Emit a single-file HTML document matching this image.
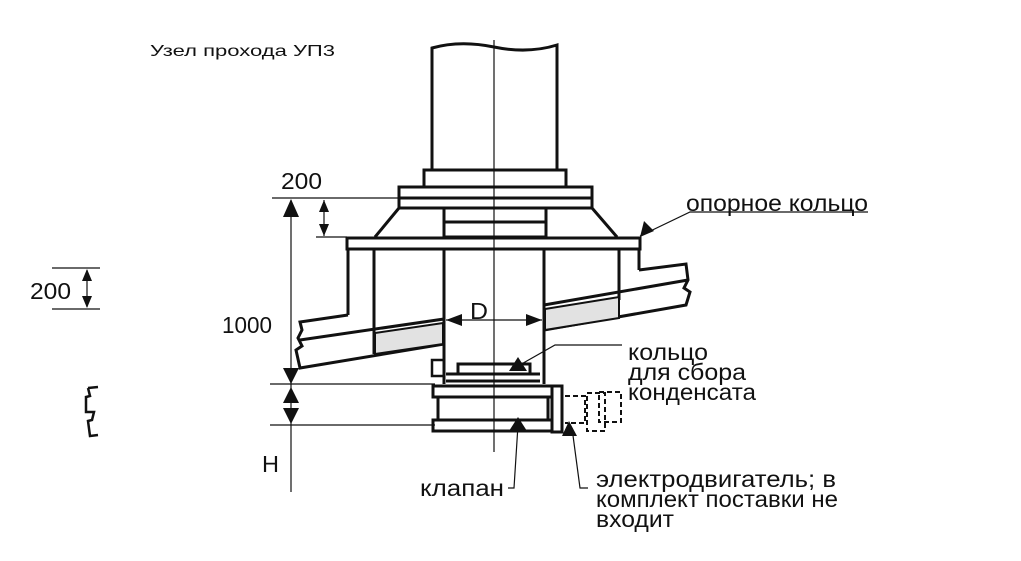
<!DOCTYPE html>
<html><head><meta charset="utf-8"><style>
body{margin:0;background:#fff;width:1021px;height:561px;overflow:hidden}
svg{display:block}
text{font-family:"Liberation Sans",Arial,sans-serif;fill:#111}
</style></head><body>
<svg width="1021" height="561" viewBox="0 0 1021 561">
<text x="150" y="56" font-size="16" font-family="DejaVu Sans" textLength="185" lengthAdjust="spacingAndGlyphs">Узел прохода УП3</text>
<g fill="none" stroke="#111" stroke-width="3">
<path d="M432,170 V48 Q460,40 494,47 T557,45 V170"/>
<rect x="424" y="170" width="142" height="17"/>
<rect x="399" y="187" width="193" height="21"/>
<line x1="399" y1="198" x2="592" y2="198"/>
<path d="M399,208 L375,237 M592,208 L617,237"/>
<rect x="444" y="208" width="102" height="29"/>
<line x1="444" y1="222" x2="546" y2="222"/>
<rect x="347" y="238" width="293" height="11"/>
<path d="M348,249 V315 M374,249 V354 M444,249 V384 M544,249 V384 M619,249 V300 M639,249 V270"/>
<path d="M348,315 L300,322 L302,330 L298,338 L302,346 L296,350 L300,368 L444,344"/>
<path d="M300,340 L444,319"/>
<path d="M639,270 L686,264 L688,280 L684,288 L690,292 L686,305 L544,330"/>
<path d="M544,305 L688,280"/>
<rect x="458" y="364" width="72" height="10"/>
<path d="M446,374 H540 M446,381 H540"/>
<rect x="432" y="360" width="12" height="16" stroke-width="2.5"/>
<rect x="433" y="386" width="119" height="11"/>
<rect x="438" y="397" width="110" height="23"/>
<rect x="433" y="420" width="119" height="11"/>
<rect x="552" y="386" width="10" height="46"/>
<path d="M88,388 L98,387 M88,388 L90,396 L86,397 L86,412 L94,412 L92,420 L88,421 L90,436 L98,435" stroke-width="2.5"/>
</g>
<path d="M375,333 L443,323 L443,344 L375,354z" fill="#e2e2e2" stroke="#111" stroke-width="2"/>
<path d="M545,309 L619,297 L619,318 L545,330z" fill="#e2e2e2" stroke="#111" stroke-width="2"/>
<g fill="none" stroke="#111" stroke-width="2" stroke-dasharray="5,3">
<path d="M565,396 H585 V423 H565"/>
<rect x="587" y="393" width="18" height="38"/>
<rect x="599" y="392" width="22" height="30"/>
</g>
<g stroke="#111" stroke-width="1.2" fill="none">
<line x1="494" y1="40" x2="494" y2="452"/>
<line x1="272" y1="198" x2="432" y2="198"/>
<line x1="316" y1="237" x2="347" y2="237"/>
<line x1="270" y1="384" x2="435" y2="384"/>
<line x1="270" y1="425" x2="435" y2="425"/>
<line x1="52" y1="268" x2="100" y2="268"/>
<line x1="52" y1="309" x2="100" y2="309"/>
<line x1="291" y1="200" x2="291" y2="492"/>
<line x1="324" y1="200" x2="324" y2="236"/>
<line x1="87" y1="270" x2="87" y2="307"/>
<line x1="446" y1="320" x2="542" y2="320"/>
<path d="M640,236 L690,212 H868" />
<path d="M518,366 L555,345 H622"/>
<path d="M518,425 L514,488 H508"/>
<path d="M572,428 L580,488 H588"/>
</g>
<g fill="#111">
<path d="M291,199 l-8,18 h16z M291,384 l-8,-16 h16z M291,387 l-8,16 h16z M291,424 l-8,-16 h16z"/>
<path d="M324,200 l-5,12 h10z M324,236 l-5,-12 h10z M87,269 l-5,12 h10z M87,308 l-5,-12 h10z"/>
<path d="M446,320 l16,-6 v12z M542,320 l-16,-6 v12z"/>
<path d="M640,237 l4,-16 l10,10z"/>
<path d="M518,357 l-9,14 h18z M518,417 l-9,14 h18z M569,421 l-7,15 h15z"/>
</g>
<g font-size="23">
<text x="281" y="189" textLength="41" lengthAdjust="spacingAndGlyphs">200</text>
<text x="222" y="333" textLength="50" lengthAdjust="spacingAndGlyphs">1000</text>
<text x="30" y="299" textLength="41" lengthAdjust="spacingAndGlyphs">200</text>
<text x="470" y="319" textLength="18" lengthAdjust="spacingAndGlyphs">D</text>
<text x="262" y="472" textLength="17" lengthAdjust="spacingAndGlyphs">H</text>
<text x="686" y="211" textLength="182" lengthAdjust="spacingAndGlyphs">опорное кольцо</text>
<text x="628" y="360" textLength="80" lengthAdjust="spacingAndGlyphs">кольцо</text>
<text x="628" y="380" textLength="118" lengthAdjust="spacingAndGlyphs">для сбора</text>
<text x="628" y="400" textLength="128" lengthAdjust="spacingAndGlyphs">конденсата</text>
<text x="420" y="496" textLength="84" lengthAdjust="spacingAndGlyphs">клапан</text>
<text x="596" y="487" textLength="240" lengthAdjust="spacingAndGlyphs">электродвигатель; в</text>
<text x="596" y="507" textLength="242" lengthAdjust="spacingAndGlyphs">комплект поставки не</text>
<text x="596" y="527" textLength="78" lengthAdjust="spacingAndGlyphs">входит</text>
</g>
</svg>
</body></html>
